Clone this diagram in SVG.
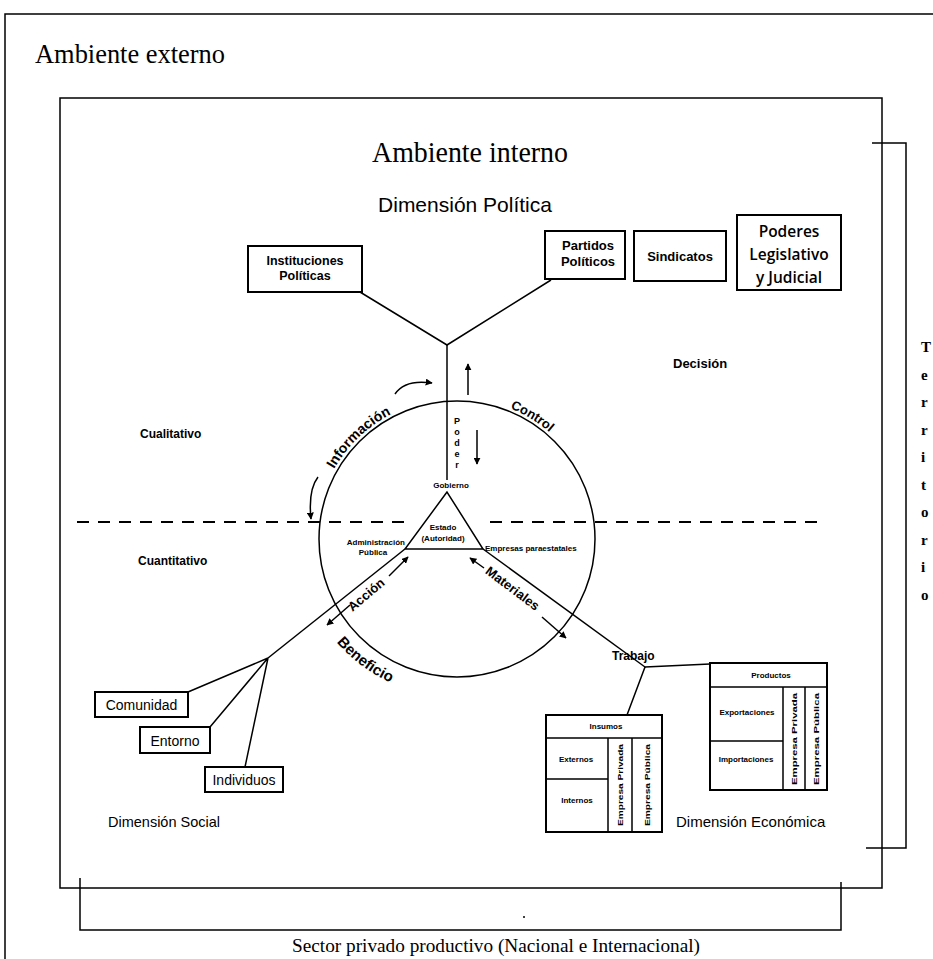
<svg xmlns="http://www.w3.org/2000/svg" width="933" height="959" viewBox="0 0 933 959">
  <style>
    .ln { stroke: #000; stroke-width: 1.5; fill: none; }
    .bx { fill: #fff; stroke: #000; stroke-width: 2; }
    .dash { stroke: #000; stroke-width: 2.2; fill: none; stroke-dasharray: 12 9; }
    .s { font-family: "Liberation Sans", Arial, sans-serif; fill: #000; }
    .b { font-weight: bold; }
    .serif { font-family: "Liberation Serif", "Times New Roman", serif; fill: #000; }
    .mid { text-anchor: middle; }
    .cal { font-family: "Open Sans", "Noto Sans", sans-serif; fill: #000; }
  </style>
  <defs>
    <marker id="ah" viewBox="0 0 10 10" refX="9" refY="5" markerWidth="7" markerHeight="7" orient="auto-start-reverse" markerUnits="userSpaceOnUse">
      <path d="M0,0 L10,5 L0,10 z" fill="#000"/>
    </marker>
    <path id="arcInfo" d="M334.0,469.0 A142,142 0 0 1 432.3,400.2"/>
    <path id="arcControl" d="M510.2,408.3 A142,142 0 0 1 580.0,469.0"/>
    <path id="arcBenef" d="M336.7,642.2 A157,157 0 0 0 430.4,694.6"/>
  </defs>

  <rect width="933" height="959" fill="#fff"/>

  <!-- outer and inner frames -->
  <g id="frames">
    <path class="ln" d="M5,959 V14 H933"/>
    <rect x="60" y="98" width="822" height="790" fill="none" stroke="#000" stroke-width="1.5"/>
    <path class="ln" d="M872,143 H906 V848 H866"/>
    <path class="ln" d="M80,878 V930 H841 V882"/>
    <circle cx="524" cy="917" r="1" fill="#000"/>
  </g>

  <g id="titles">
    <text class="serif" x="35" y="63" font-size="28" textLength="190" lengthAdjust="spacingAndGlyphs">Ambiente externo</text>
    <text class="serif" x="372" y="162" font-size="30" textLength="196" lengthAdjust="spacingAndGlyphs">Ambiente interno</text>
    <text class="serif" x="292" y="952" font-size="19" textLength="408" lengthAdjust="spacingAndGlyphs">Sector privado productivo (Nacional e Internacional)</text>
    <g class="serif b" font-size="15">
      <text x="921" y="352">T</text>
      <text x="921" y="379.5">e</text>
      <text x="921" y="407">r</text>
      <text x="921" y="434.5">r</text>
      <text x="921" y="462">i</text>
      <text x="921" y="489.5">t</text>
      <text x="921" y="517">o</text>
      <text x="921" y="544.5">r</text>
      <text x="921" y="572">i</text>
      <text x="921" y="599.5">o</text>
    </g>
  </g>

  <!-- connectors -->
  <g id="connectors">
    <path class="ln" d="M360,292 L447,345 L551,280"/>
    <path class="ln" d="M447,345 V480"/>
    <ellipse class="ln" cx="457" cy="539" rx="138" ry="138"/>
    <path class="ln" d="M447,492 L405,549 H483 Z"/>
    <path class="ln" d="M405,549 L268,658"/>
    <path class="ln" d="M483,549 L645,667"/>
    <path class="ln" d="M268,658 L188,692 M268,658 L210,727 M268,658 L245,767"/>
    <path class="ln" d="M645,667 L710,664 M645,667 L627,715"/>
    <path class="dash" d="M77,522 H412"/>
    <path class="dash" d="M490,522 H826"/>
    <!-- power arrows -->
    <path class="ln" stroke-width="2" d="M468,395 V364" marker-end="url(#ah)"/>
    <path class="ln" stroke-width="2" d="M477,430 V464" marker-end="url(#ah)"/>
    <!-- information arrows -->
    <path class="ln" stroke-width="2" d="M395,394 Q405,379 432,383" marker-end="url(#ah)"/>
    <path class="ln" stroke-width="2" d="M318,477 Q308,490 311,519" marker-end="url(#ah)"/>
    <path class="ln" d="M311,522 H320"/>
    <!-- action arrows -->
    <path class="ln" stroke-width="2" d="M389,576 L408,557" marker-end="url(#ah)"/>
    <path class="ln" stroke-width="2" d="M350,605 L327,625" marker-end="url(#ah)"/>
    <!-- materials arrows -->
    <path class="ln" stroke-width="2" d="M484,568 L470,558" marker-end="url(#ah)"/>
    <path class="ln" stroke-width="2" d="M542,617 L566,638" marker-end="url(#ah)"/>
  </g>

  <!-- political dimension -->
  <text class="s mid" x="465" y="212" font-size="21">Dimensión Política</text>
  <g id="n-instituciones">
    <rect class="bx" x="248" y="246" width="114" height="46"/>
    <text class="s b mid" x="305" y="265" font-size="12.5">Instituciones</text>
    <text class="s b mid" x="305" y="280" font-size="12.5">Políticas</text>
  </g>
  <g id="n-partidos">
    <rect class="bx" x="545" y="231" width="80" height="48"/>
    <text class="s b mid" x="588" y="250" font-size="13">Partidos</text>
    <text class="s b mid" x="588" y="266" font-size="13">Políticos</text>
  </g>
  <g id="n-sindicatos">
    <rect class="bx" x="634" y="231" width="92" height="50"/>
    <text class="s b mid" x="680" y="261" font-size="13">Sindicatos</text>
  </g>
  <g id="n-poderes">
    <rect class="bx" x="737" y="215" width="104" height="75"/>
    <text class="cal mid" x="789" y="237" font-size="15.5" font-weight="600">Poderes</text>
    <text class="cal mid" x="789" y="260" font-size="15.5" font-weight="600">Legislativo</text>
    <text class="cal mid" x="789" y="283" font-size="15.5" font-weight="600">y Judicial</text>
  </g>

  <!-- side labels -->
  <text class="s b" x="140" y="438" font-size="12">Cualitativo</text>
  <text class="s b" x="138" y="565" font-size="12">Cuantitativo</text>
  <text class="s b" x="673" y="368" font-size="13">Decisión</text>
  <text class="s b" x="612" y="660" font-size="12">Trabajo</text>

  <!-- core: state triangle -->
  <g id="n-estado">
    <text class="s b mid" x="451" y="488" font-size="8">Gobierno</text>
    <text class="s b mid" x="443" y="530" font-size="8">Estado</text>
    <text class="s b mid" x="443" y="541" font-size="8">(Autoridad)</text>
    <text class="s b" x="405" y="545" font-size="8" text-anchor="end">Administración</text>
    <text class="s b mid" x="373" y="555" font-size="8">Pública</text>
    <text class="s b" x="485" y="551" font-size="8">Empresas paraestatales</text>
    <g class="s b mid" font-size="9">
      <text x="457" y="424">P</text>
      <text x="457" y="435">o</text>
      <text x="457" y="446">d</text>
      <text x="457" y="457">e</text>
      <text x="457" y="468">r</text>
    </g>
  </g>

  <!-- flow labels -->
  <text class="s b" font-size="14"><textPath href="#arcInfo">Información</textPath></text>
  <text class="s b" font-size="13"><textPath href="#arcControl">Control</textPath></text>
  <text class="s b" font-size="15"><textPath href="#arcBenef">Beneficio</textPath></text>
  <text class="s b mid" font-size="13" transform="translate(369,598) rotate(-40)">Acción</text>
  <text class="s b mid" font-size="13" transform="translate(510,592) rotate(37)">Materiales</text>

  <!-- social dimension -->
  <g id="n-comunidad">
    <rect class="bx" x="95" y="692" width="93" height="25"/>
    <text class="s mid" x="141.5" y="710" font-size="14">Comunidad</text>
  </g>
  <g id="n-entorno">
    <rect class="bx" x="140" y="727" width="70" height="26"/>
    <text class="s mid" x="175" y="746" font-size="14">Entorno</text>
  </g>
  <g id="n-individuos">
    <rect class="bx" x="205" y="767" width="78" height="25"/>
    <text class="s mid" x="244" y="785" font-size="14">Individuos</text>
  </g>
  <text class="s" x="108" y="827" font-size="14.5">Dimensión Social</text>

  <!-- economic dimension -->
  <g id="n-insumos">
    <rect class="bx" x="546" y="715" width="116" height="117"/>
    <path class="ln" d="M546,738 H662 M608,738 V832 M632,738 V832 M546,779 H608"/>
    <text class="s b mid" x="606" y="729" font-size="8">Insumos</text>
    <text class="s b mid" x="576" y="762" font-size="8">Externos</text>
    <text class="s b mid" x="577" y="803" font-size="8">Internos</text>
    <text class="s b mid" font-size="8" transform="translate(623,785) rotate(-90)" textLength="82" lengthAdjust="spacingAndGlyphs">Empresa Privada</text>
    <text class="s b mid" font-size="8" transform="translate(650,785) rotate(-90)" textLength="82" lengthAdjust="spacingAndGlyphs">Empresa Pública</text>
  </g>
  <g id="n-productos">
    <rect class="bx" x="710" y="663" width="117" height="127"/>
    <path class="ln" d="M710,687 H827 M783,687 V790 M805,687 V790 M710,741 H783"/>
    <text class="s b mid" x="771" y="678" font-size="8">Productos</text>
    <text class="s b mid" x="747" y="715" font-size="8">Exportaciones</text>
    <text class="s b mid" x="746" y="762" font-size="8">Importaciones</text>
    <text class="s b mid" font-size="8" transform="translate(797,739) rotate(-90)" textLength="92" lengthAdjust="spacingAndGlyphs">Empresa Privada</text>
    <text class="s b mid" font-size="8" transform="translate(819,739) rotate(-90)" textLength="92" lengthAdjust="spacingAndGlyphs">Empresa Pública</text>
  </g>
  <text class="s" x="676" y="827" font-size="15">Dimensión Económica</text>
</svg>
